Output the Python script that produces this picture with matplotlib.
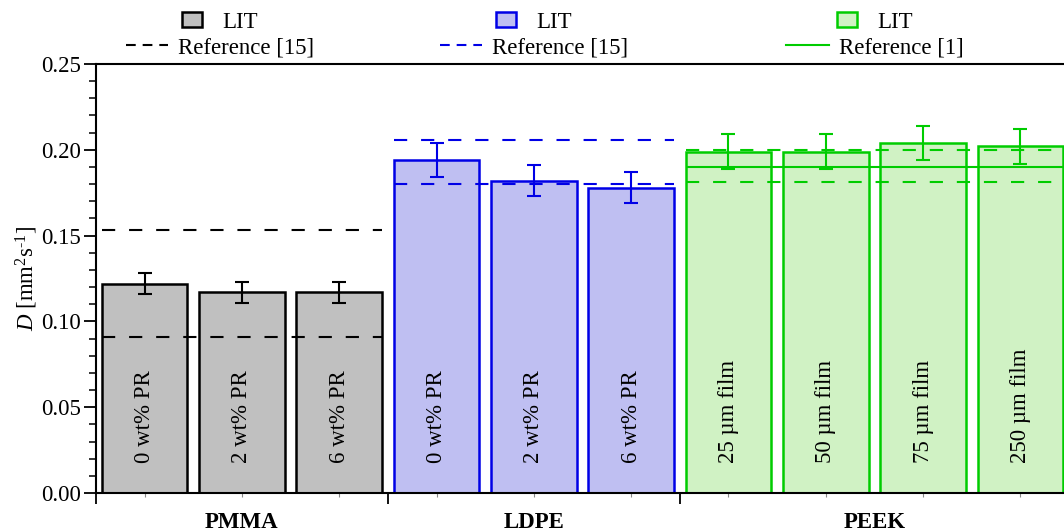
import matplotlib
matplotlib.use("Agg")
import matplotlib.pyplot as plt
from matplotlib.lines import Line2D
from matplotlib.patches import Patch
import matplotlib.transforms as mtransforms

plt.rcParams['font.family'] = ['Liberation Serif', 'DejaVu Serif']
plt.rcParams['mathtext.fontset'] = 'custom'
plt.rcParams['mathtext.rm'] = 'Liberation Serif'
plt.rcParams['mathtext.it'] = 'Liberation Serif:italic'
plt.rcParams['lines.scale_dashes'] = False

# measured diffusivities (mm^2/s)
groups = ['PMMA', 'LDPE', 'PEEK']
bar_labels = [
    ['0 wt% PR', '2 wt% PR', '6 wt% PR'],
    ['0 wt% PR', '2 wt% PR', '6 wt% PR'],
    ['25 µm film', '50 µm film', '75 µm film', '250 µm film'],
]
values = [
    [0.122, 0.117, 0.117],
    [0.194, 0.182, 0.178],
    [0.199, 0.199, 0.204, 0.202],
]
errors = [
    [0.006, 0.006, 0.006],
    [0.010, 0.009, 0.009],
    [0.010, 0.010, 0.010, 0.010],
]
# literature bounds
ref_lines = [
    [(0.153, 'dashed'), (0.091, 'dashed')],
    [(0.206, 'dashed'), (0.180, 'dashed')],
    [(0.200, 'dashed'), (0.181, 'dashed'), (0.190, 'solid')],
]
ref_names = ['Reference [15]', 'Reference [15]', 'Reference [1]']
legend_styles = ['dashed', 'dashed', 'solid']

fills = ['#c0c0c0', '#bfbff2', '#d0f2c4']
edges = ['#000000', '#0000e6', '#00cc00']

FS = 16.5
W = 0.88
DASH = (0, (9.5, 10))

fig = plt.figure(figsize=(10.64, 5.32), dpi=100)
ax = fig.add_axes([96 / 1064, 39 / 532, 973 / 1064, 429 / 532])

pos = 0
group_centers = []
boundaries = [-0.5]
for g in range(len(groups)):
    xs = list(range(pos, pos + len(values[g])))
    ax.bar(xs, values[g], width=W, color=fills[g], edgecolor=edges[g],
           linewidth=1.8, zorder=2)
    ax.errorbar(xs, values[g], yerr=errors[g], fmt='none', ecolor=edges[g],
                elinewidth=1.5, capsize=4.8, capthick=1.5, zorder=4)
    for x, lab in zip(xs, bar_labels[g]):
        ax.text(x, 0.0175, lab, rotation=90, ha='center', va='bottom',
                fontsize=FS, zorder=5)
    x0 = xs[0] - W / 2
    x1 = xs[-1] + W / 2 if g < 2 else xs[-1] + 0.6
    for yv, ls in ref_lines[g]:
        ax.hlines(yv, x0, x1, colors=edges[g], linewidth=1.5,
                  linestyles=DASH if ls == 'dashed' else 'solid', zorder=3)
    group_centers.append((xs[0] + xs[-1]) / 2)
    pos += len(values[g])
    boundaries.append(pos - 0.5)

ax.set_xlim(-0.5, pos - 0.5)
ax.set_ylim(0, 0.25)

ax.set_xticks(boundaries[:-1])
ax.set_xticklabels([])
ax.set_xticks(range(pos), minor=True)
ax.tick_params(axis='x', which='major', direction='out', length=8, width=1.3)
ax.tick_params(axis='x', which='minor', direction='out', length=3, width=0.8,
               color='#888888')

ax.set_yticks([0, 0.05, 0.10, 0.15, 0.20, 0.25])
ax.set_yticklabels(['0.00', '0.05', '0.10', '0.15', '0.20', '0.25'])
ax.set_yticks([i / 100 for i in range(26)], minor=True)
ax.tick_params(axis='y', which='major', direction='out', length=9, width=1.3,
               labelsize=FS, pad=2)
ax.tick_params(axis='y', which='minor', direction='out', length=5, width=1.1)

for s in ['left', 'bottom', 'top']:
    ax.spines[s].set_linewidth(1.5)
ax.spines['right'].set_visible(False)

ax.set_ylabel(r'$D$ [mm$^2$s$^{\text{-}1}$]', fontsize=FS)
ax.yaxis.set_label_coords(-0.058, 0.5)

trans = mtransforms.blended_transform_factory(ax.transData, ax.transAxes)
for c, name in zip(group_centers, groups):
    ax.text(c, -0.068, name, transform=trans, ha='center', va='center',
            fontsize=FS, fontweight='bold')

# one legend per row so every entry sits centred above its group
legend_x = [220, 534, 875]
for g in range(len(groups)):
    patch = Patch(facecolor=fills[g], edgecolor=edges[g], linewidth=1.8)
    if legend_styles[g] == 'dashed':
        line = Line2D([], [], color=edges[g], linewidth=1.5,
                      linestyle=(0, (7, 5)))
    else:
        line = Line2D([], [], color=edges[g], linewidth=1.5)
    lg1 = fig.legend([patch], ['LIT'], loc='center',
                     bbox_to_anchor=(legend_x[g] / 1064, 1 - 22 / 532),
                     frameon=False, fontsize=FS, handlelength=0.85,
                     handleheight=0.65, handletextpad=0.9,
                     borderpad=0, borderaxespad=0)
    lg2 = fig.legend([line], [ref_names[g]], loc='center',
                     bbox_to_anchor=(legend_x[g] / 1064, 1 - 48 / 532),
                     frameon=False, fontsize=FS, handlelength=1.85,
                     handletextpad=0.45, borderpad=0, borderaxespad=0)

fig.savefig('out.png', dpi=100)
